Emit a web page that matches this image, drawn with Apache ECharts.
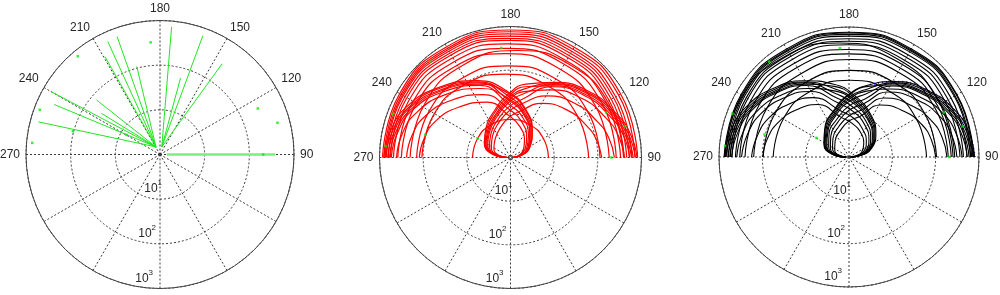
<!DOCTYPE html>
<html>
<head>
<meta charset="utf-8">
<script src="https://cdn.jsdelivr.net/npm/echarts@6/dist/echarts.min.js"></script>
<style>
  html, body { margin: 0; padding: 0; background: #fff; }
  #chart { width: 1000px; height: 295px; }
</style>
</head>
<body>
<div id="chart"></div>
<script>
// angle ticks that carry a label (only the upper half is labelled here)
var angleLabels = [90, 120, 150, 180, 210, 240, 270];
// log radius: rings at 10^1, 10^2, 10^3
var radiusMin = 1, radiusMax = 1000;

// all marks are in plot units (decades of the log radius), x to the 90 side, y to the 180 side
// green points, the same in the three plots
var receivers = [[-0.21, 2.51], [-1.84, 2.2], [-2.69, 1.0], [-2.86, 0.26], [2.19, 1.03],
  [2.63, 0.71], [2.31, 0], [-1.95, 0.52], [-0.75, 0.44]];

// plot 1: straight rays
var rays1 = [
  [[0.04, 0.17], [0.26, 2.86]],
  [[0.04, 0.17], [0.96, 2.66]],
  [[0.04, 0.17], [1.39, 2.03]],
  [[0.04, 0.17], [0.46, 1.71]],
  [[-0.09, 0.17], [-1.17, 2.53]],
  [[-0.09, 0.17], [-0.96, 2.64]],
  [[-0.09, 0.17], [-0.52, 1.97]],
  [[-0.09, 0.17], [-1.23, 2.19]],
  [[-0.09, 0.17], [-2.44, 1.41]],
  [[-0.09, 0.17], [-2.37, 1.12]],
  [[-0.09, 0.17], [-2.72, 0.73]],
  [[-0.09, 0.17], [-1.42, 1.22]],
  [[-0.09, 0.17], [-1.31, 0.92]]
];
var ray1East = [[0.15, 0], [2.58, 0]];

// plot 2: big arcs over the top
var arcs2 = [
  [[-2.93,0],[-2.54,1.46],[-1.47,2.53],[-0.01,2.92],[1.45,2.53],[2.52,1.46],[2.91,0]],
  [[-2.90,0],[-2.51,1.44],[-1.46,2.49],[-0.03,2.88],[1.41,2.49],[2.47,1.44],[2.85,0]],
  [[-2.87,0],[-2.49,1.41],[-1.46,2.45],[-0.05,2.83],[1.37,2.45],[2.40,1.41],[2.78,0]],
  [[-2.84,0],[-2.47,1.39],[-1.45,2.41],[-0.06,2.78],[1.33,2.41],[2.35,1.39],[2.72,0]],
  [[-2.80,0],[-2.43,1.37],[-1.44,2.36],[-0.07,2.73],[1.30,2.36],[2.29,1.37],[2.66,0]],
  [[-2.75,0],[-2.39,1.34],[-1.41,2.32],[-0.08,2.68],[1.26,2.32],[2.24,1.34],[2.60,0]],
  [[-2.68,0],[-2.33,1.30],[-1.38,2.25],[-0.08,2.60],[1.22,2.25],[2.17,1.30],[2.52,0]],
  [[-2.58,0],[-2.25,1.25],[-1.33,2.17],[-0.08,2.50],[1.17,2.17],[2.09,1.25],[2.42,0]],
  [[-2.50,0],[-2.18,1.19],[-1.31,2.06],[-0.12,2.38],[1.07,2.06],[1.94,1.19],[2.26,0]],
  [[-2.15,0],[-1.87,1.05],[-1.10,1.82],[-0.05,2.10],[1.00,1.82],[1.77,1.05],[2.05,0]],
  [[-2.03,0],[-1.77,0.96],[-1.08,1.65],[-0.12,1.91],[0.84,1.65],[1.53,0.96],[1.79,0]],
  [[-2.30,0],[-1.97,1.22],[-1.08,2.12],[0.15,2.45],[1.37,2.12],[2.26,1.22],[2.59,0]],
  [[-0.87,0],[-0.75,0.44],[-0.44,0.75],[0,0.87],[0.44,0.75],[0.75,0.44],[0.87,0]]
];
// plot 2: paths from the 270 side that loop back to the centre
var loops2L = [
  [[-2.90,0],[-2.75,0.60],[-2.38,1.16],[-1.65,1.60],[-0.75,1.76],[-0.05,1.50],[0.35,1.10],[0.50,0.60],[0.45,0.25],[0.25,0.05],[0.05,0]],
  [[-2.86,0],[-2.71,0.59],[-2.34,1.14],[-1.63,1.58],[-0.74,1.73],[-0.05,1.41],[0.33,1.03],[0.47,0.56],[0.42,0.24],[0.24,0.05],[0.05,0]],
  [[-2.81,0],[-2.67,0.58],[-2.31,1.13],[-1.60,1.55],[-0.73,1.71],[-0.05,1.32],[0.31,0.97],[0.44,0.53],[0.40,0.22],[0.22,0.04],[0.04,0]],
  [[-2.77,0],[-2.63,0.57],[-2.27,1.11],[-1.58,1.53],[-0.72,1.68],[-0.05,1.47],[0.34,1.08],[0.49,0.59],[0.44,0.25],[0.25,0.05],[0.05,0]],
  [[-2.73,0],[-2.59,0.56],[-2.24,1.09],[-1.55,1.50],[-0.71,1.65],[-0.05,1.23],[0.29,0.90],[0.41,0.49],[0.37,0.21],[0.21,0.04],[0.04,0]],
  [[-2.61,0],[-2.48,0.54],[-2.14,1.04],[-1.49,1.44],[-0.68,1.58],[-0.05,1.35],[0.32,0.99],[0.45,0.54],[0.41,0.23],[0.23,0.05],[0.05,0]],
  [[-2.38,0],[-2.26,0.49],[-1.95,0.95],[-1.35,1.31],[-0.62,1.44],[-0.04,1.11],[0.26,0.81],[0.37,0.44],[0.33,0.19],[0.19,0.04],[0.04,0]],
  [[-2.09,0],[-1.98,0.43],[-1.71,0.84],[-1.19,1.15],[-0.54,1.27],[-0.04,0.96],[0.22,0.70],[0.32,0.38],[0.29,0.16],[0.16,0.03],[0.03,0]]
];
// plot 2: paths from the 90 side that loop back to the centre
var loops2R = [
  [[2.90,0],[2.74,0.55],[2.43,1.00],[1.82,1.50],[1.00,1.72],[0.35,1.68],[-0.05,1.45],[-0.35,1.10],[-0.56,0.68],[-0.60,0.32],[-0.42,0.08],[-0.08,0]],
  [[2.86,0],[2.70,0.54],[2.39,0.99],[1.79,1.48],[0.99,1.69],[0.32,1.57],[-0.04,1.36],[-0.32,1.02],[-0.52,0.63],[-0.56,0.30],[-0.39,0.07],[-0.07,0]],
  [[2.81,0],[2.66,0.53],[2.36,0.97],[1.77,1.46],[0.97,1.67],[0.30,1.46],[-0.04,1.26],[-0.30,0.95],[-0.48,0.59],[-0.52,0.28],[-0.36,0.07],[-0.07,0]],
  [[2.77,0],[2.62,0.53],[2.32,0.96],[1.74,1.43],[0.96,1.64],[0.34,1.62],[-0.05,1.40],[-0.34,1.06],[-0.54,0.66],[-0.58,0.31],[-0.41,0.08],[-0.08,0]],
  [[2.73,0],[2.58,0.52],[2.28,0.94],[1.71,1.41],[0.94,1.62],[0.28,1.34],[-0.04,1.16],[-0.28,0.88],[-0.45,0.54],[-0.48,0.25],[-0.34,0.06],[-0.06,0]],
  [[2.61,0],[2.47,0.50],[2.19,0.90],[1.64,1.35],[0.90,1.55],[0.31,1.51],[-0.04,1.31],[-0.31,0.99],[-0.50,0.61],[-0.54,0.29],[-0.38,0.07],[-0.07,0]],
  [[2.38,0],[2.25,0.45],[1.99,0.82],[1.49,1.23],[0.82,1.41],[0.26,1.23],[-0.04,1.06],[-0.26,0.81],[-0.41,0.50],[-0.44,0.23],[-0.31,0.06],[-0.06,0]],
  [[2.09,0],[1.97,0.40],[1.75,0.72],[1.31,1.08],[0.72,1.24],[0.22,1.06],[-0.03,0.92],[-0.22,0.70],[-0.35,0.43],[-0.38,0.20],[-0.27,0.05],[-0.05,0]]
];

// plot 3: big arcs over the top
var arcs3 = [
  [[-2.88,0],[-2.49,1.44],[-1.44,2.49],[0,2.88],[1.44,2.49],[2.49,1.44],[2.88,0]],
  [[-2.85,0],[-2.47,1.43],[-1.42,2.47],[0.01,2.86],[1.43,2.47],[2.48,1.43],[2.86,0]],
  [[-2.82,0],[-2.44,1.41],[-1.41,2.45],[0.01,2.83],[1.42,2.45],[2.45,1.41],[2.83,0]],
  [[-2.78,0],[-2.41,1.40],[-1.39,2.42],[0.01,2.79],[1.41,2.42],[2.43,1.40],[2.80,0]],
  [[-2.74,0],[-2.37,1.37],[-1.38,2.36],[-0.01,2.73],[1.36,2.36],[2.35,1.37],[2.72,0]],
  [[-2.70,0],[-2.34,1.34],[-1.37,2.31],[-0.03,2.67],[1.31,2.31],[2.28,1.34],[2.64,0]],
  [[-2.62,0],[-2.27,1.30],[-1.33,2.24],[-0.03,2.59],[1.27,2.24],[2.21,1.30],[2.56,0]],
  [[-2.52,0],[-2.19,1.24],[-1.28,2.15],[-0.04,2.48],[1.20,2.15],[2.11,1.24],[2.44,0]],
  [[-2.40,0],[-2.08,1.19],[-1.21,2.06],[-0.02,2.38],[1.17,2.06],[2.04,1.19],[2.36,0]],
  [[-2.20,0],[-1.90,1.12],[-1.08,1.94],[0.05,2.25],[1.17,1.94],[1.99,1.12],[2.29,0]],
  [[-1.98,0],[-1.71,1.00],[-0.98,1.73],[0.02,2.00],[1.02,1.73],[1.75,1.00],[2.02,0]],
  [[-1.75,0],[-1.51,0.89],[-0.87,1.53],[0.02,1.77],[0.91,1.53],[1.55,0.89],[1.79,0]],
  [[-2.86,0],[-2.51,1.32],[-1.55,2.28],[-0.23,2.63],[1.09,2.28],[2.05,1.32],[2.40,0]]
];
var loops3L = [
  [[-2.88,0],[-2.72,0.62],[-2.35,1.18],[-1.75,1.58],[-1.05,1.76],[-0.35,1.68],[0.15,1.40],[0.50,0.98],[0.62,0.55],[0.52,0.20],[0.25,0.03],[0.05,0]],
  [[-2.84,0],[-2.68,0.61],[-2.31,1.16],[-1.72,1.56],[-1.03,1.73],[-0.32,1.57],[0.14,1.31],[0.47,0.92],[0.58,0.52],[0.49,0.19],[0.23,0.03],[0.05,0]],
  [[-2.79,0],[-2.64,0.60],[-2.28,1.14],[-1.70,1.53],[-1.02,1.71],[-0.30,1.46],[0.13,1.22],[0.44,0.85],[0.54,0.48],[0.45,0.17],[0.22,0.03],[0.04,0]],
  [[-2.75,0],[-2.60,0.59],[-2.24,1.13],[-1.67,1.51],[-1.00,1.68],[-0.34,1.63],[0.14,1.36],[0.49,0.95],[0.60,0.53],[0.50,0.19],[0.24,0.03],[0.05,0]],
  [[-2.71,0],[-2.56,0.58],[-2.21,1.11],[-1.65,1.49],[-0.99,1.65],[-0.28,1.36],[0.12,1.13],[0.41,0.79],[0.50,0.45],[0.42,0.16],[0.20,0.03],[0.04,0]],
  [[-2.59,0],[-2.45,0.56],[-2.12,1.06],[-1.58,1.42],[-0.95,1.58],[-0.31,1.52],[0.13,1.27],[0.45,0.88],[0.56,0.50],[0.47,0.18],[0.22,0.03],[0.04,0]],
  [[-2.48,0],[-2.34,0.53],[-2.02,1.01],[-1.51,1.36],[-0.90,1.51],[-0.26,1.25],[0.11,1.04],[0.37,0.73],[0.46,0.41],[0.39,0.15],[0.18,0.02],[0.04,0]],
  [[-2.25,0],[-2.12,0.48],[-1.83,0.92],[-1.37,1.23],[-0.82,1.37],[-0.22,1.08],[0.10,0.90],[0.32,0.63],[0.40,0.36],[0.34,0.13],[0.16,0.02],[0.03,0]],
  [[-1.99,0],[-1.88,0.43],[-1.62,0.81],[-1.21,1.09],[-0.72,1.21],[-0.19,0.92],[0.08,0.77],[0.28,0.54],[0.34,0.30],[0.29,0.11],[0.14,0.02],[0.03,0]]
];
var loops3R = [
  [[2.90,0],[2.76,0.58],[2.44,1.08],[1.85,1.52],[1.05,1.74],[0.45,1.66],[0.00,1.45],[-0.35,1.08],[-0.56,0.65],[-0.58,0.30],[-0.40,0.07],[-0.08,0]],
  [[2.86,0],[2.72,0.57],[2.40,1.06],[1.82,1.50],[1.03,1.71],[0.43,1.57],[0.00,1.38],[-0.33,1.02],[-0.53,0.62],[-0.55,0.29],[-0.38,0.07],[-0.08,0]],
  [[2.81,0],[2.68,0.56],[2.37,1.05],[1.79,1.47],[1.02,1.69],[0.40,1.46],[0.00,1.28],[-0.31,0.95],[-0.49,0.57],[-0.51,0.27],[-0.35,0.06],[-0.07,0]],
  [[2.77,0],[2.64,0.55],[2.33,1.03],[1.77,1.45],[1.00,1.66],[0.44,1.63],[0.00,1.43],[-0.34,1.06],[-0.55,0.64],[-0.57,0.30],[-0.39,0.07],[-0.08,0]],
  [[2.73,0],[2.59,0.55],[2.29,1.02],[1.74,1.43],[0.99,1.64],[0.37,1.34],[0.00,1.18],[-0.28,0.87],[-0.46,0.53],[-0.47,0.24],[-0.32,0.06],[-0.07,0]],
  [[2.61,0],[2.48,0.52],[2.20,0.97],[1.67,1.37],[0.95,1.57],[0.41,1.52],[0.00,1.33],[-0.32,0.99],[-0.51,0.59],[-0.53,0.28],[-0.37,0.06],[-0.07,0]],
  [[2.49,0],[2.37,0.50],[2.10,0.93],[1.59,1.31],[0.90,1.50],[0.34,1.23],[0.00,1.08],[-0.26,0.80],[-0.42,0.48],[-0.43,0.22],[-0.30,0.05],[-0.06,0]],
  [[2.26,0],[2.15,0.45],[1.90,0.84],[1.44,1.19],[0.82,1.36],[0.30,1.09],[0.00,0.95],[-0.23,0.71],[-0.37,0.43],[-0.38,0.20],[-0.26,0.05],[-0.05,0]],
  [[2.00,0],[1.90,0.40],[1.68,0.75],[1.28,1.05],[0.72,1.20],[0.26,0.94],[0.00,0.83],[-0.20,0.61],[-0.32,0.37],[-0.33,0.17],[-0.23,0.04],[-0.05,0]]
];
// plot 3: blue trace showing under the outer path from the 90 side
var blueTrace3 = [[2.90,0],[2.76,0.58],[2.44,1.08],[1.85,1.52],[1.05,1.74],[0.45,1.66]];

// layout of the three polar plots (px)
var panels = [
  { cx: 160, cy: 154.5, r: 134 },
  { cx: 510.5, cy: 157.5, r: 131 },
  { cx: 849, cy: 157, r: 130 }
];

var textColor = '#262626';
var gridColor = '#3a3a3a';
var font = 'Liberation Sans';

var series = [];
function addLines(list, gi, color, width, smooth, z, type) {
  list.forEach(function (pts) {
    series.push({
      type: 'line', xAxisIndex: gi, yAxisIndex: gi, data: pts,
      smooth: smooth, showSymbol: false, symbol: 'none', silent: true, z: z,
      lineStyle: { color: color, width: width, type: type || 'solid' }
    });
  });
}
addLines(rays1, 0, '#22e622', 1, false, 3);
addLines([ray1East], 0, '#7af07a', 2.5, false, 3);
addLines(arcs2, 1, '#ff0000', 1.2, true, 3);
addLines(loops2L, 1, '#ff0000', 1.2, true, 3);
addLines(loops2R, 1, '#ff0000', 1.2, true, 3);
addLines([blueTrace3], 2, '#2020ff', 2, true, 2, [1, 3]);
addLines(arcs3, 2, '#000000', 1.1, true, 3);
addLines(loops3L, 2, '#000000', 1.1, true, 3);
addLines(loops3R, 2, '#000000', 1.1, true, 3);
panels.forEach(function (p, i) {
  series.push({
    type: 'scatter', xAxisIndex: i, yAxisIndex: i, data: receivers,
    symbol: 'rect', symbolSize: 2.5, silent: true, z: 4,
    itemStyle: { color: '#00ee00' }
  });
});

var option = {
  animation: false,
  backgroundColor: '#ffffff',
  polar: panels.map(function (p) { return { center: [p.cx, p.cy], radius: p.r }; }),
  angleAxis: panels.map(function (p, i) {
    return {
      polarIndex: i, type: 'value', min: 0, max: 360, interval: 30,
      startAngle: 270, clockwise: false,
      axisLine: { lineStyle: { color: '#444', width: 1 } },
      axisTick: { show: false },
      axisLabel: {
        margin: 6, color: textColor, fontSize: 12, fontFamily: font,
        formatter: function (v) { return angleLabels.indexOf(v) >= 0 ? String(v) : ''; }
      },
      splitLine: { show: true, lineStyle: { color: gridColor, width: 1, type: [2, 2] } }
    };
  }),
  radiusAxis: panels.map(function (p, i) {
    return {
      polarIndex: i, type: 'log', logBase: 10, min: radiusMin, max: radiusMax,
      axisLine: { show: false },
      axisTick: { show: false },
      splitLine: { show: true, lineStyle: { color: gridColor, width: 1, type: [2, 2] } },
      axisLabel: {
        show: true, margin: 2, align: 'right', verticalAlign: 'bottom',
        padding: [0, 0, 4, 0],
        formatter: function (v) {
          var e = Math.round(Math.log(v) / Math.LN10);
          if (e < 1) return '';
          return '{b|10}{s' + e + '|' + e + '}';
        },
        rich: {
          b: { fontSize: 12, fontFamily: font, color: textColor, lineHeight: 16, verticalAlign: 'bottom' },
          s1: { fontSize: 8, fontFamily: font, color: textColor, verticalAlign: 'top', padding: [0, 0, 0, 0] },
          s2: { fontSize: 8, fontFamily: font, color: textColor, verticalAlign: 'top', padding: [0, 6, 0, 0] },
          s3: { fontSize: 8, fontFamily: font, color: textColor, verticalAlign: 'top', padding: [0, 9, 0, 0] }
        }
      }
    };
  }),
  grid: panels.map(function (p) {
    return { left: p.cx - p.r, top: p.cy - p.r, width: 2 * p.r, height: 2 * p.r, containLabel: false };
  }),
  xAxis: panels.map(function (p, i) {
    return { gridIndex: i, type: 'value', min: -3, max: 3, show: false };
  }),
  yAxis: panels.map(function (p, i) {
    return { gridIndex: i, type: 'value', min: -3, max: 3, show: false };
  }),
  series: series
};

var chart = echarts.init(document.getElementById('chart'));
chart.setOption(option);
</script>
</body>
</html>
